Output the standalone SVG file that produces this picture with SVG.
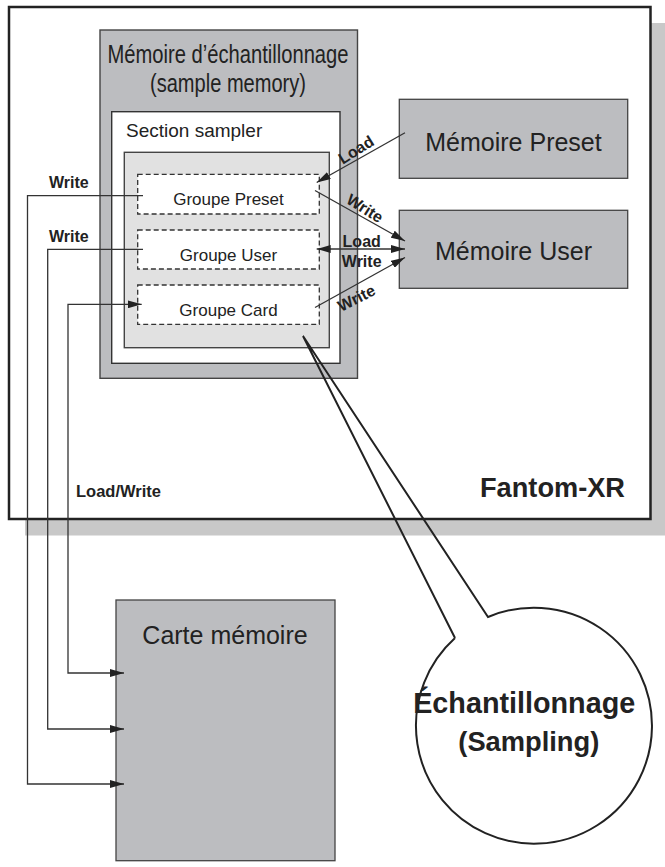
<svg xmlns="http://www.w3.org/2000/svg" width="665" height="867" viewBox="0 0 665 867">
<style>
text{font-family:"Liberation Sans",Arial,Helvetica,sans-serif;fill:#222}
.b{font-weight:bold}
.big{font-size:25px}
.grp{font-size:17px;text-anchor:middle}
.lbl{font-size:16px;font-weight:bold;text-anchor:middle}
.mem{fill:#bcbdc0;stroke:#444;stroke-width:1.3}
.dash{fill:#fff;stroke:#333;stroke-width:1.3;stroke-dasharray:5 3}
.con{fill:none;stroke:#333;stroke-width:1.3}
</style>
<defs>
<marker id="arr" markerUnits="userSpaceOnUse" markerWidth="14" markerHeight="8" viewBox="0 0 14 8" refX="14" refY="4" orient="auto-start-reverse">
<path d="M0,0 L14,4 L0,8 z" fill="#222"/>
</marker>
</defs>
<rect width="665" height="867" fill="#fff"/>
<g id="fantom-xr">
<rect x="25" y="23" width="641" height="512.5" fill="#c8c8c8"/>
<rect x="9" y="7" width="641.5" height="512" fill="#fff" stroke="#222" stroke-width="2.5"/>
<text x="625" y="497" class="b" font-size="27" text-anchor="end" textLength="145" lengthAdjust="spacingAndGlyphs">Fantom-XR</text>
</g>
<g id="sample-memory">
<rect x="100" y="30" width="257.5" height="348.3" fill="#bcbdc0" stroke="#444" stroke-width="1.4"/>
<text x="228" y="63.3" class="big" text-anchor="middle" textLength="241" lengthAdjust="spacingAndGlyphs">Mémoire d’échantillonnage</text>
<text x="228" y="91.5" class="big" text-anchor="middle" textLength="156" lengthAdjust="spacingAndGlyphs">(sample memory)</text>
</g>
<g id="section-sampler">
<rect x="111.7" y="111.7" width="228.3" height="251.6" fill="#fff" stroke="#333" stroke-width="1.4"/>
<text x="126" y="136.7" font-size="19">Section sampler</text>
</g>
<g id="groups">
<rect x="124.3" y="152.3" width="205" height="195.4" fill="#e1e1e1" stroke="#444" stroke-width="1.4"/>
</g>
<g id="groupe-preset">
<rect class="dash" x="137.7" y="174.3" width="181.6" height="39.7"/>
<text x="228.5" y="205" class="grp">Groupe Preset</text>
</g>
<g id="groupe-user">
<rect class="dash" x="137.7" y="230" width="181.6" height="39"/>
<text x="228.5" y="260.5" class="grp">Groupe User</text>
</g>
<g id="groupe-card">
<rect class="dash" x="137.7" y="285" width="181.6" height="39.3"/>
<text x="228.5" y="315.5" class="grp">Groupe Card</text>
</g>
<g id="memoire-preset">
<rect class="mem" x="399.3" y="99.3" width="228.4" height="79"/>
<text x="513.5" y="151" class="big" text-anchor="middle">Mémoire Preset</text>
</g>
<g id="memoire-user">
<rect class="mem" x="399.3" y="210.3" width="228.4" height="78"/>
<text x="513.5" y="260" class="big" text-anchor="middle">Mémoire User</text>
</g>
<g id="carte-memoire">
<rect class="mem" x="116" y="600" width="219" height="260.7"/>
<text x="225" y="644" class="big" text-anchor="middle">Carte mémoire</text>
</g>
<g id="connectors">
<path class="con" d="M143,195.7 H27.5 V784 H124" marker-end="url(#arr)"/>
<path class="con" d="M143,249.3 H47.7 V729 H124" marker-end="url(#arr)"/>
<path class="con" d="M141.7,304.3 H68 V673 H124" marker-start="url(#arr)" marker-end="url(#arr)"/>
<path class="con" d="M405,132.7 L316.7,182.5" marker-end="url(#arr)"/>
<path class="con" d="M315,190.5 L405,241" marker-end="url(#arr)"/>
<path class="con" d="M316.7,249 H405" marker-start="url(#arr)" marker-end="url(#arr)"/>
<path class="con" d="M315,307.5 L405,257.5" marker-end="url(#arr)"/>
<text x="68.8" y="188.3" class="lbl">Write</text>
<text x="68.8" y="241.7" class="lbl">Write</text>
<text x="76" y="497" class="b" font-size="16.5">Load/Write</text>
<text class="lbl" transform="translate(359,154.5) rotate(-32)">Load</text>
<text class="lbl" transform="translate(362,213) rotate(32)">Write</text>
<text x="361.7" y="246.5" class="lbl">Load</text>
<text x="361.7" y="267.3" class="lbl">Write</text>
<text class="lbl" transform="translate(359,303) rotate(-27)">Write</text>
</g>
<g id="sampling-balloon">
<path d="M455,638 L303,336 L488,617 A118,118 0 1 1 455,638" fill="none" stroke="#222" stroke-width="2"/>
<text x="524.2" y="713.3" class="b" font-size="29" text-anchor="middle" textLength="222" lengthAdjust="spacingAndGlyphs">Échantillonnage</text>
<text x="528.8" y="751" class="b" font-size="28" text-anchor="middle" textLength="141" lengthAdjust="spacingAndGlyphs">(Sampling)</text>
</g>
</svg>
